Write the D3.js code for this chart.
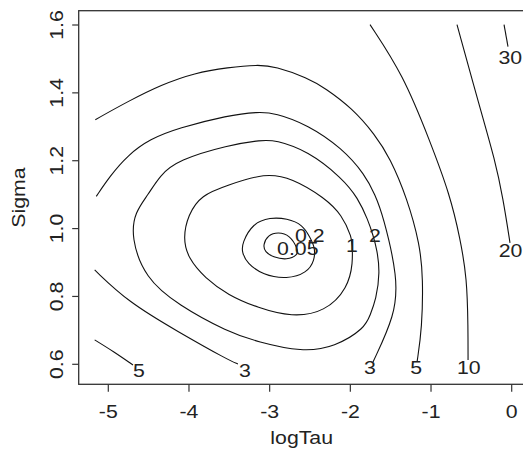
<!DOCTYPE html>
<html>
<head>
<meta charset="utf-8">
<script src="https://cdn.jsdelivr.net/npm/d3@7"></script>
<style>
  body { margin: 0; background: #fff; }
  svg { display: block; }
  text { font-family: "Liberation Sans", Arial, sans-serif; fill: #222; }
</style>
</head>
<body>
<svg id="chart" width="523" height="454"></svg>
<script>
// contour lines, points are [logTau, Sigma]
const c005 = [[-2.651,0.940],[-2.651,0.922],[-2.785,0.907],[-2.959,0.916],[-3.058,0.931],
  [-3.083,0.952],[-3.021,0.981],[-2.897,0.990],[-2.750,0.981]];
const c02 = [[-2.502,0.975],[-2.440,0.946],[-2.440,0.907],[-2.539,0.869],[-2.785,0.851],
  [-3.083,0.863],[-3.281,0.898],[-3.343,0.930],[-3.343,0.957],[-3.207,1.016],
  [-2.996,1.033],[-2.785,1.030],[-2.589,1.011]];
const c1 = [[-1.979,0.952],[-1.967,0.901],[-2.029,0.825],[-2.314,0.754],[-2.725,0.739],
  [-3.145,0.766],[-3.516,0.804],[-3.801,0.854],[-4.012,0.913],[-4.074,0.972],
  [-4.012,1.040],[-3.851,1.099],[-3.516,1.128],[-3.058,1.164],[-2.725,1.149],
  [-2.314,1.090],[-2.103,1.040],[-1.979,0.972]];
const c2 = [[-1.719,0.981],[-1.669,0.937],[-1.632,0.872],[-1.681,0.790],[-1.756,0.745],
  [-1.818,0.707],[-2.190,0.651],[-2.601,0.636],[-3.145,0.666],[-3.516,0.695],
  [-4.136,0.775],[-4.545,0.854],[-4.719,0.975],[-4.669,1.049],[-4.508,1.099],
  [-4.360,1.157],[-4.136,1.202],[-3.516,1.246],[-3.095,1.261],[-2.934,1.261],
  [-2.527,1.229],[-2.103,1.149],[-1.905,1.090],[-1.781,1.025]];
const c3top = [[-5.149,1.095],[-4.979,1.155],[-4.756,1.217],[-4.483,1.264],[-4.136,1.296],
  [-3.516,1.334],[-3.145,1.344],[-2.934,1.341],[-2.527,1.306],[-2.103,1.237],
  [-1.818,1.159],[-1.694,1.100],[-1.595,1.040],[-1.409,0.854],[-1.446,0.745],
  [-1.719,0.607]];
const c3low = [[-5.169,0.878],[-4.756,0.784],[-4.136,0.696],[-3.516,0.613],[-3.393,0.601]];
const c5top = [[-5.161,1.321],[-4.756,1.375],[-4.343,1.424],[-3.929,1.459],[-3.516,1.475],
  [-3.145,1.483],[-2.934,1.478],[-2.527,1.444],[-2.314,1.414],[-1.979,1.355],
  [-1.694,1.277],[-1.508,1.208],[-1.297,1.090],[-1.136,0.952],[-1.099,0.854],
  [-1.111,0.707],[-1.173,0.607]];
const c5low = [[-5.169,0.672],[-4.930,0.637],[-4.694,0.598]];
const c10 = [[-1.756,1.601],[-1.347,1.454],[-1.012,1.257],[-0.765,1.099],[-0.640,0.972],
  [-0.554,0.854],[-0.541,0.707],[-0.541,0.613]];
const c20 = [[-0.678,1.601],[-0.393,1.355],[-0.207,1.202],[-0.108,1.090],[-0.021,0.958]];
const c30 = [[-0.095,1.601],[-0.046,1.536]];

const closedLines = [c005, c02, c1, c2];
const openLines = [c3top, c3low, c5top, c5low, c10, c20, c30];

// contour labels
const labelText  = ["0.05", "0.2", "1", "2", "3", "3", "5", "5", "10", "20", "30"];
const labelTau   = [-2.651, -2.502, -1.979, -1.694, -1.756, -3.306, -1.185, -4.619, -0.533, -0.014, -0.017];
const labelSigma = [0.941, 0.980, 0.952, 0.981, 0.592, 0.582, 0.592, 0.582, 0.591, 0.937, 1.506];

const xTicks = [-5, -4, -3, -2, -1, 0];
const yTicks = [0.6, 0.8, 1.0, 1.2, 1.4, 1.6];

const fs = 18.5, stretch = 1.15;
const box = {left: 78.7, top: 10.7, right: 524.7, bottom: 384.3};

const svg = d3.select("#chart");

const x = d3.scaleLinear().domain([-5, 0]).range([108.3, 511.7]);
const y = d3.scaleLinear().domain([0.6, 1.6]).range([364.3, 25]);

// box
svg.append("rect")
  .attr("x", box.left).attr("y", box.top)
  .attr("width", box.right - box.left).attr("height", box.bottom - box.top)
  .attr("fill", "none").attr("stroke", "#333").attr("stroke-width", 1.3);

// ticks
svg.selectAll(".xt").data(xTicks).enter().append("line")
  .attr("x1", d => x(d)).attr("x2", d => x(d))
  .attr("y1", box.bottom).attr("y2", box.bottom + 7.5)
  .attr("stroke", "#333").attr("stroke-width", 1.2);
svg.selectAll(".yt").data(yTicks).enter().append("line")
  .attr("y1", d => y(d)).attr("y2", d => y(d))
  .attr("x1", box.left).attr("x2", box.left - 6.5)
  .attr("stroke", "#333").attr("stroke-width", 1.2);

function label(px, py, s, rot, dy) {
  svg.append("text")
    .attr("transform", `translate(${px},${py})` + (rot ? " rotate(-90)" : "") + ` scale(${stretch},1)`)
    .attr("text-anchor", "middle")
    .attr("dy", dy || 0)
    .style("font-size", fs + "px")
    .text(s);
}

xTicks.forEach(d => label(x(d), 418.3, String(d)));
yTicks.forEach(d => label(63.3, y(d), d.toFixed(1), true));
label((box.left + box.right) / 2, 443.5, "logTau");
label(24.5, (box.top + box.bottom) / 2, "Sigma", true);

// contours, smoothed through the read points
const closedGen = d3.line().x(d => x(d[0])).y(d => y(d[1])).curve(d3.curveBasisClosed);
const openGen = d3.line().x(d => x(d[0])).y(d => y(d[1])).curve(d3.curveBasis);

svg.append("g").selectAll("path").data(closedLines).enter().append("path")
  .attr("d", closedGen).attr("fill", "none").attr("stroke", "#111").attr("stroke-width", 1.1);
svg.append("g").selectAll("path").data(openLines).enter().append("path")
  .attr("d", openGen).attr("fill", "none").attr("stroke", "#111").attr("stroke-width", 1.1);

labelText.forEach((s, i) => label(x(labelTau[i]), y(labelSigma[i]), s, false, "0.36em"));
</script>
</body>
</html>
